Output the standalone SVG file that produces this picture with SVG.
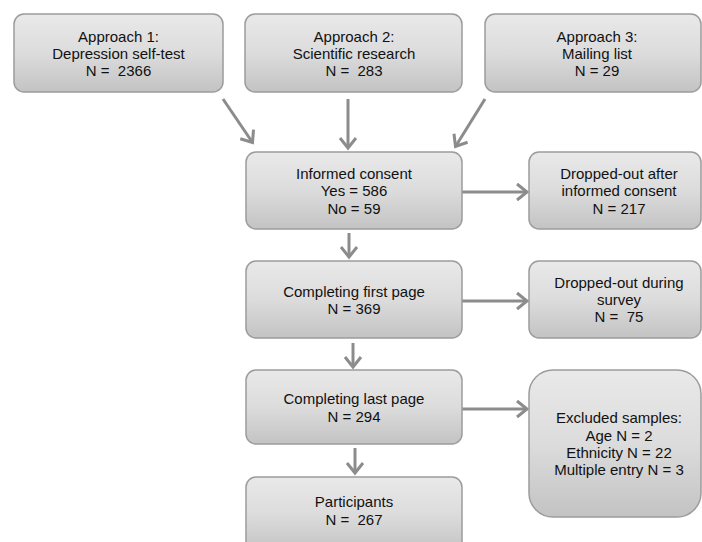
<svg xmlns="http://www.w3.org/2000/svg" width="702" height="542" viewBox="0 0 702 542">
<defs>
<linearGradient id="g" x1="0" y1="0" x2="0" y2="1">
<stop offset="0" stop-color="#e9e9e9"/>
<stop offset="0.5" stop-color="#dcdcdc"/>
<stop offset="1" stop-color="#c3c3c3"/>
</linearGradient>
<marker id="ah" markerUnits="userSpaceOnUse" markerWidth="24" markerHeight="24" viewBox="-12 -12 24 24" refX="0" refY="0" orient="auto">
<path d="M-10,-8 L0,0 L-10,8" fill="none" stroke="#8c8c8c" stroke-width="3" stroke-linejoin="miter"/>
</marker>
<style>
.box{fill:url(#g);stroke:#9c9c9c;stroke-width:1.5}
.t{font-family:"Liberation Sans",Arial,sans-serif;font-size:15px;fill:#111111;text-anchor:middle}
.c{stroke:#8c8c8c;stroke-width:3;fill:none;marker-end:url(#ah)}
</style>
</defs>
<rect width="702" height="542" fill="#ffffff"/>
<g id="connectors">
<line class="c" x1="223" y1="99" x2="252.5" y2="142.5"/>
<line class="c" x1="348" y1="99" x2="348" y2="148"/>
<line class="c" x1="485" y1="99" x2="455.5" y2="146.5"/>
<line class="c" x1="349" y1="233" x2="349" y2="257"/>
<line class="c" x1="462" y1="192" x2="527" y2="192"/>
<line class="c" x1="353" y1="343" x2="353" y2="367"/>
<line class="c" x1="462" y1="301" x2="527" y2="301"/>
<line class="c" x1="355" y1="448" x2="355" y2="473"/>
<line class="c" x1="462" y1="409" x2="527" y2="409"/>
</g>
<g id="approach1">
<rect class="box" x="14" y="14" width="209" height="78" rx="10"/>
<text class="t" x="118.5" y="42">Approach 1:</text>
<text class="t" x="118.5" y="59">Depression self-test</text>
<text class="t" x="118.5" y="76">N =&#160; 2366</text>
</g>
<g id="approach2">
<rect class="box" x="245" y="14" width="217" height="78" rx="10"/>
<text class="t" x="354" y="42">Approach 2:</text>
<text class="t" x="354" y="59">Scientific research</text>
<text class="t" x="354" y="76">N =&#160; 283</text>
</g>
<g id="approach3">
<rect class="box" x="485" y="14" width="216" height="78" rx="10"/>
<text class="t" x="597" y="42">Approach 3:</text>
<text class="t" x="597" y="59">Mailing list</text>
<text class="t" x="597" y="76">N = 29</text>
</g>
<g id="consent">
<rect class="box" x="246" y="152" width="216" height="77" rx="10"/>
<text class="t" x="354" y="179">Informed consent</text>
<text class="t" x="354" y="196">Yes = 586</text>
<text class="t" x="354" y="214">No = 59</text>
</g>
<g id="dropped1">
<rect class="box" x="529" y="152" width="172" height="77" rx="10"/>
<text class="t" x="619" y="179">Dropped-out after</text>
<text class="t" x="619" y="196">informed consent</text>
<text class="t" x="619" y="214">N = 217</text>
</g>
<g id="firstpage">
<rect class="box" x="246" y="261" width="216" height="77" rx="10"/>
<text class="t" x="354" y="297">Completing first page</text>
<text class="t" x="354" y="314">N = 369</text>
</g>
<g id="dropped2">
<rect class="box" x="529" y="261" width="172" height="77" rx="10"/>
<text class="t" x="619" y="288">Dropped-out during</text>
<text class="t" x="619" y="305">survey</text>
<text class="t" x="619" y="322">N =&#160; 75</text>
</g>
<g id="lastpage">
<rect class="box" x="246" y="370" width="216" height="74" rx="10"/>
<text class="t" x="354" y="404">Completing last page</text>
<text class="t" x="354" y="422">N = 294</text>
</g>
<g id="excluded">
<rect class="box" x="529" y="370" width="172" height="147" rx="24"/>
<text class="t" x="619" y="423">Excluded samples:</text>
<text class="t" x="619" y="441">Age N = 2</text>
<text class="t" x="619" y="458">Ethnicity N = 22</text>
<text class="t" x="619" y="475">Multiple entry N = 3</text>
</g>
<g id="participants">
<rect class="box" x="246" y="477" width="216" height="75" rx="10"/>
<text class="t" x="354" y="507">Participants</text>
<text class="t" x="354" y="525">N =&#160; 267</text>
</g>
</svg>
